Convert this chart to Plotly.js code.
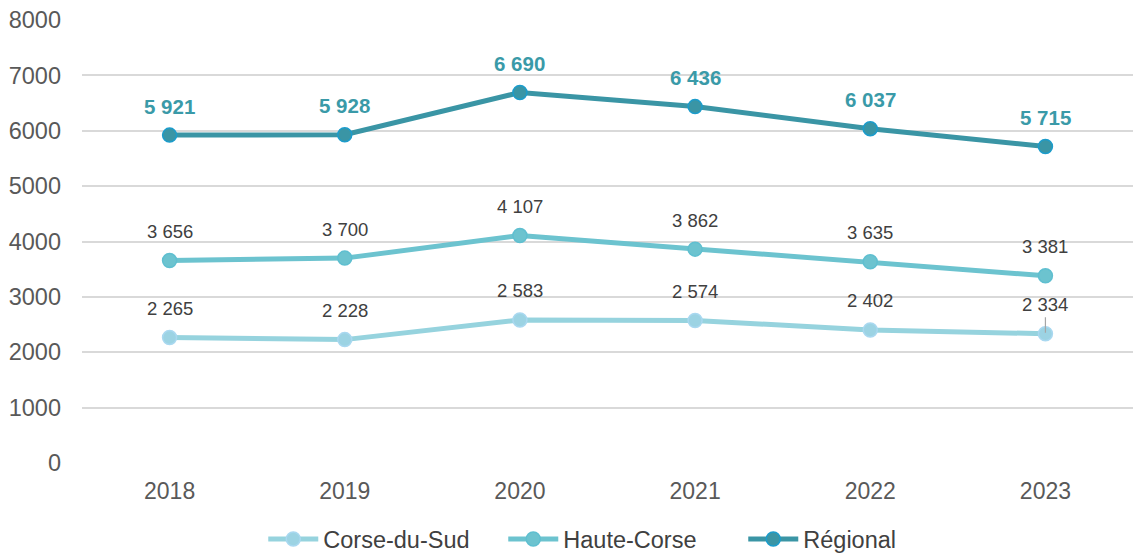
<!DOCTYPE html>
<html><head><meta charset="utf-8">
<script src="https://cdn.plot.ly/plotly-3.0.1.min.js"></script>
<style>html,body{margin:0;padding:0;background:#fff}#c{width:1133px;height:554px}</style>
</head><body><div id="c"></div>
<script>
const years = ['2018','2019','2020','2021','2022','2023'];
const corseDuSud = [2265, 2228, 2583, 2574, 2402, 2334];
const hauteCorse = [3656, 3700, 4107, 3862, 3635, 3381];
const regional = [5921, 5928, 6690, 6436, 6037, 5715];
const seriesNames = ['Corse-du-Sud', 'Haute-Corse', 'Régional'];
const yTicks = [0,1000,2000,3000,4000,5000,6000,7000,8000];

function fmt(v){ return String(v).replace(/\B(?=(\d{3})+(?!\d))/g, ' '); }

const font = 'Liberation Sans, Arial, sans-serif';
const cfg = [
  {y: corseDuSud, line:'#96d3de', mfill:'#9cd3e3', mline:'#a9d8f0', lab:{color:'#404040', size:18.5}},
  {y: hauteCorse, line:'#6cc3cf', mfill:'#6cc3cf', mline:'#5fbfd0', lab:{color:'#404040', size:18.5}},
  {y: regional, line:'#3a95a5', mfill:'#3a95a5', mline:'#1c9ccb', lab:{color:'#3a9aa8', size:20.5, bold:true}}
];

const traces = cfg.map((c,i)=>({
  x: years, y: c.y, name: seriesNames[i], type:'scatter', mode:'lines+markers',
  line:{color:c.line, width:5},
  marker:{color:c.mfill, size:14, line:{color:c.mline, width:1.5}},
  hoverinfo:'skip'
}));

const annotations = [];
cfg.forEach((c)=>{
  c.y.forEach((v,j)=>{
    annotations.push({
      x: j, y: v, xref:'x', yref:'y',
      text: c.lab.bold ? '<b>'+fmt(v)+'</b>' : fmt(v),
      showarrow:false, yshift: 29,
      font:{family:font, size:c.lab.size, color:c.lab.color}
    });
  });
});
// leader line for the last Corse-du-Sud label
annotations.push({
  x: 5, y: corseDuSud[5], xref:'x', yref:'y', text:' ',
  showarrow:true, arrowhead:0, arrowwidth:1.2, arrowcolor:'#a6a6a6',
  ax:0, ay:-19, standoff:1, startstandoff:0, font:{size:2}
});

const layout = {
  width:1133, height:554,
  margin:{l:82, r:0, t:20, b:91, autoexpand:false},
  paper_bgcolor:'#fff', plot_bgcolor:'#fff',
  font:{family:font, color:'#595959'},
  showlegend:true,
  legend:{orientation:'h', x:0.515, xanchor:'center', y:-0.172, yanchor:'middle',
    font:{family:font, size:23.5, color:'#404040'}, itemwidth:50, entrywidth:175, entrywidthmode:'pixels'},
  xaxis:{type:'category', range:[-0.5,5.5], showgrid:false, zeroline:false, showline:false,
    ticks:'', tickfont:{size:23, color:'#595959'}, ticklabelstandoff:12},
  yaxis:{range:[0,8000], tickvals:yTicks, ticktext:yTicks.map(String), showgrid:true, gridcolor:'#d9d9d9', gridwidth:1.5,
    zeroline:false, showline:false, ticks:'', tickfont:{size:23.5, color:'#595959'}, ticklabelstandoff:20},
  annotations: annotations
};
Plotly.newPlot('c', traces, layout, {displayModeBar:false});
</script></body></html>
